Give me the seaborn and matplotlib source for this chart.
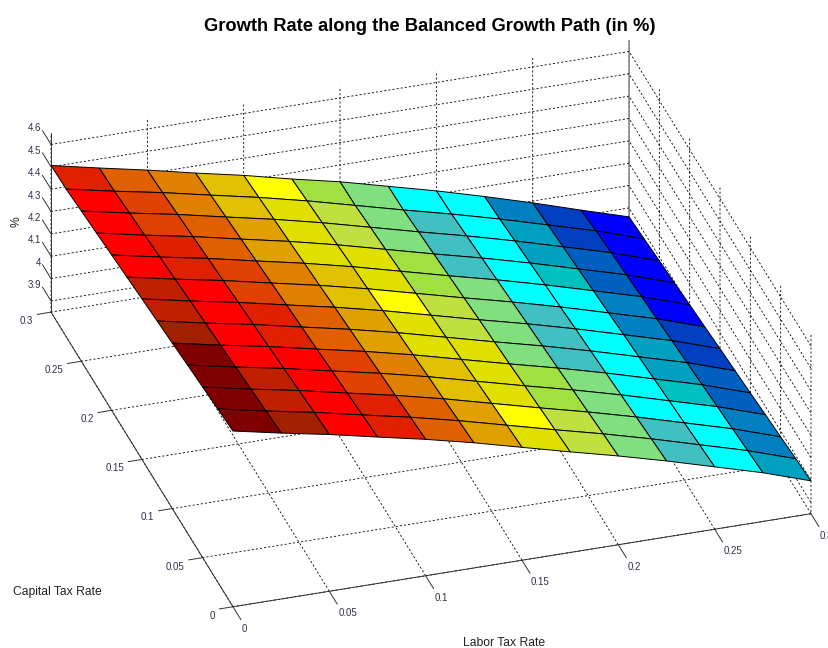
import numpy as np
import matplotlib
matplotlib.use("Agg")
import matplotlib.pyplot as plt
from matplotlib.colors import Normalize
from mpl_toolkits.mplot3d import proj3d
import seaborn as sns

labor = [0, 0.025, 0.05, 0.075, 0.1, 0.125, 0.15, 0.175, 0.2, 0.225, 0.25, 0.275, 0.3]
capital = [0, 0.025, 0.05, 0.075, 0.1, 0.125, 0.15, 0.175, 0.2, 0.225, 0.25, 0.275, 0.3]

# growth rate, one row per capital tax rate
growth = [
    [4.636, 4.592, 4.551, 4.505, 4.460, 4.410, 4.355, 4.300, 4.247, 4.190, 4.129, 4.068, 3.997],
    [4.625, 4.581, 4.540, 4.494, 4.449, 4.399, 4.344, 4.289, 4.236, 4.179, 4.118, 4.057, 3.986],
    [4.613, 4.569, 4.528, 4.482, 4.437, 4.387, 4.332, 4.277, 4.224, 4.167, 4.106, 4.045, 3.974],
    [4.602, 4.558, 4.517, 4.471, 4.426, 4.376, 4.321, 4.266, 4.213, 4.156, 4.095, 4.034, 3.963],
    [4.590, 4.546, 4.505, 4.459, 4.414, 4.364, 4.309, 4.254, 4.201, 4.144, 4.083, 4.022, 3.951],
    [4.579, 4.535, 4.494, 4.448, 4.403, 4.353, 4.298, 4.243, 4.190, 4.133, 4.072, 4.011, 3.940],
    [4.568, 4.524, 4.483, 4.437, 4.392, 4.342, 4.287, 4.232, 4.179, 4.122, 4.061, 4.000, 3.929],
    [4.556, 4.512, 4.471, 4.425, 4.380, 4.330, 4.275, 4.220, 4.167, 4.110, 4.049, 3.988, 3.917],
    [4.545, 4.501, 4.460, 4.414, 4.369, 4.319, 4.264, 4.209, 4.156, 4.099, 4.038, 3.977, 3.906],
    [4.533, 4.489, 4.448, 4.402, 4.357, 4.307, 4.252, 4.197, 4.144, 4.087, 4.026, 3.965, 3.894],
    [4.522, 4.478, 4.437, 4.391, 4.346, 4.296, 4.241, 4.186, 4.133, 4.076, 4.015, 3.954, 3.883],
    [4.510, 4.466, 4.425, 4.379, 4.334, 4.284, 4.229, 4.174, 4.121, 4.064, 4.003, 3.942, 3.871],
    [4.506, 4.460, 4.416, 4.368, 4.323, 4.272, 4.225, 4.170, 4.115, 4.055, 3.992, 3.925, 3.860],
]

rate_ticks = [0, 0.05, 0.1, 0.15, 0.2, 0.25, 0.3]
rate_labels = ["0", "0.05", "0.1", "0.15", "0.2", "0.25", "0.3"]
pct_ticks = [3.9, 4, 4.1, 4.2, 4.3, 4.4, 4.5, 4.6]
pct_labels = ["3.9", "4", "4.1", "4.2", "4.3", "4.4", "4.5", "4.6"]

# the reference image was saved with a reduced palette
palette = np.array([
    [0x00, 0x00, 0xff], [0x00, 0x40, 0xc0], [0x00, 0x60, 0xc0], [0x00, 0x80, 0xc0],
    [0x00, 0xa0, 0xc0], [0x00, 0xc0, 0xc0], [0x00, 0xff, 0xff], [0x40, 0xc0, 0xc0],
    [0x80, 0xe0, 0x80], [0xa0, 0xe0, 0x40], [0xc0, 0xe0, 0x40], [0xe0, 0xe0, 0x00],
    [0xff, 0xff, 0x00], [0xe0, 0xc0, 0x00], [0xe0, 0xa0, 0x00], [0xe0, 0x80, 0x00],
    [0xe0, 0x60, 0x00], [0xe0, 0x40, 0x00], [0xe0, 0x20, 0x00], [0xff, 0x00, 0x00],
    [0xc0, 0x20, 0x00], [0xa0, 0x20, 0x00], [0x80, 0x00, 0x00],
]) / 255
YELLOW = 12

sns.set_theme(style="white", rc={
    "grid.color": "black",
    "grid.linestyle": (0, (2.5, 2.5)),
    "grid.linewidth": 0.6,
    "axes.linewidth": 0.7,
})
plt.rcParams["font.family"] = ["Liberation Sans", "DejaVu Sans"]

X, Y = np.meshgrid(labor, capital)
Z = np.array(growth)

# MATLAB style jet with 64 levels, then snapped to the palette
level = np.minimum(np.floor(Normalize(Z.min(), Z.max())(Z) * 64) + 1, 64) / 64
rgb = np.clip(np.stack([1.5 - np.abs(4 * level - 3),
                        1.5 - np.abs(4 * level - 2),
                        1.5 - np.abs(4 * level - 1)], axis=-1), 0, 1)
dist = ((rgb[..., None, :] - palette) ** 2).sum(-1)
dist[..., YELLOW] += 0.015
face_colors = palette[np.argmin(dist, axis=-1)]

fig = plt.figure(figsize=(8.29, 6.48), dpi=100)
ax = fig.add_axes([5.3 / 829, -101.2 / 648, 1, 829 / 648], projection="3d", proj_type="ortho")
ax.view_init(elev=30.7, azim=-107.5)
ax.set_box_aspect((606, 605, 208), zoom=1.032)

ax.plot_surface(X, Y, Z, facecolors=face_colors, rstride=1, cstride=1, shade=False,
                edgecolor="black", linewidth=0.7)

ax.set_xlim(0, 0.3, view_margin=0)
ax.set_ylim(0, 0.3, view_margin=0)
ax.set_zlim(3.85, 4.65, view_margin=0)
ax.set_xticks(rate_ticks)
ax.set_yticks(rate_ticks)
ax.set_zticks(pct_ticks)
ax.tick_params(labelbottom=False, labelleft=False, label1On=False, label2On=False)
ax.grid(True)

for axis in (ax.xaxis, ax.yaxis, ax.zaxis):
    axis.set_pane_color((1, 1, 1, 0))
    axis.pane.set_edgecolor("none")
    axis.line.set_color("#333333")
    axis._axinfo["tick"]["inward_factor"] = 0
    axis._axinfo["tick"]["outward_factor"] = 0


def label_at(x, y, z, text, ha):
    px, py, _ = proj3d.proj_transform(x, y, z, ax.get_proj())
    ax.text2D(px, py, text, transform=ax.transData, fontsize=7, color="#303050", ha=ha, va="center")


# ticks and their labels the way MATLAB puts them, label a bit beyond the tick end
tick_kw = dict(color="#333333", linewidth=0.7)
floor = 3.85
for tick, label in zip(rate_ticks, rate_labels):
    ax.plot([tick, tick], [0, -0.0132], [floor, floor], **tick_kw)
    ax.plot([0, -0.0072], [tick, tick], [floor, floor], **tick_kw)
    label_at(tick - 0.0022, -0.0217, floor, label, "left")
    label_at(-0.0111, tick - 0.0056, floor, label, "right")
for tick, label in zip(pct_ticks, pct_labels):
    ax.plot([0, 0], [0.3, 0.3142], [tick, tick], **tick_kw)
    label_at(0, 0.3163, tick, label, "right")

fig.text(430 / 829, 1 - 26.5 / 648, "Growth Rate along the Balanced Growth Path (in %)",
         fontsize=13.25, fontweight="bold", ha="center", va="center", color="black")
fig.text(13 / 829, 1 - 592 / 648, "Capital Tax Rate", fontsize=8.7, va="center", color="#222222")
fig.text(463 / 829, 1 - 643 / 648, "Labor Tax Rate", fontsize=8.7, va="center", color="#222222")
fig.text(17 / 829, 1 - 222 / 648, "%", fontsize=8.7, rotation=90, ha="center", va="center", color="#222222")

fig.savefig("out.png", dpi=100)
